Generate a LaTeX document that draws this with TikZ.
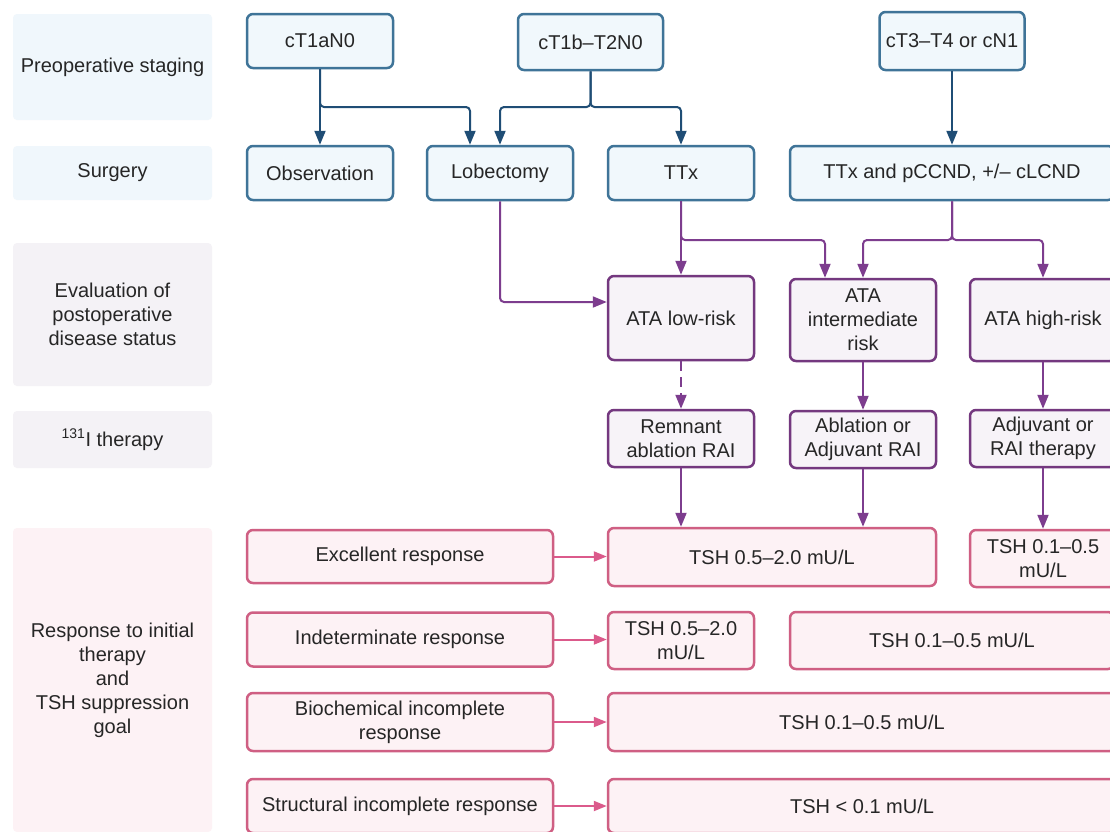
\documentclass[tikz,border=0pt]{standalone}
\usepackage{fontspec}
\setmainfont{Liberation Sans}
\usetikzlibrary{arrows.meta}
\definecolor{txt}{HTML}{262626}
\definecolor{bluebd}{HTML}{3F7498}
\definecolor{bluefill}{HTML}{F1F8FC}
\definecolor{bluearr}{HTML}{1F4D75}
\definecolor{lblblue}{HTML}{F0F7FC}
\definecolor{purbd}{HTML}{74387F}
\definecolor{purfill}{HTML}{F7F3F8}
\definecolor{purarr}{HTML}{7D3D8E}
\definecolor{lblpur}{HTML}{F4F2F6}
\definecolor{pinkbd}{HTML}{CF5F83}
\definecolor{pinkfill}{HTML}{FDF2F5}
\definecolor{pinkarr}{HTML}{DB5A8B}
\definecolor{lblpink}{HTML}{FDF2F5}
\begin{document}
\begin{tikzpicture}[x=1pt,y=-1pt,
  every node/.style={font=\fontsize{20}{24}\selectfont, text=txt, align=center, inner sep=0pt},
  lbl/.style={fill=#1, rounded corners=4pt, draw=none},
  bbox/.style={draw=bluebd, fill=bluefill, line width=2.5pt, rounded corners=6pt},
  pbox/.style={draw=purbd, fill=purfill, line width=2.5pt, rounded corners=6pt},
  kbox/.style={draw=pinkbd, fill=pinkfill, line width=2.5pt, rounded corners=6pt},
  barr/.style={draw=bluearr, line width=2pt, rounded corners=4pt, -{Triangle[length=14pt,width=11pt]}},
  parr/.style={draw=purarr, line width=2pt, rounded corners=4pt, -{Triangle[length=14pt,width=11pt]}},
  karr/.style={draw=pinkarr, line width=2pt, -{Triangle[length=13pt,width=10pt]}}
]
\clip (0,0) rectangle (1110,831);
\fill[white] (0,0) rectangle (1110,831);

% row labels
\node[lbl=lblblue, minimum width=199pt, minimum height=106pt] (L1) at (112.5,67) {Preoperative staging};
\node[lbl=lblblue, minimum width=199pt, minimum height=54pt] (L2) at (112.5,173) {Surgery};
\node[lbl=lblpur, minimum width=199pt, minimum height=143pt] (L3) at (112.5,314.5) {Evaluation of\\postoperative\\disease status};
\node[lbl=lblpur, minimum width=199pt, minimum height=57pt] (L4) at (112.5,439.5) {\textsuperscript{131}I therapy};
\node[lbl=lblpink, minimum width=199pt, minimum height=304pt] (L5) at (112.5,680) {Response to initial\\therapy\\and\\TSH suppression\\goal};

% staging
\node[bbox, minimum width=146pt, minimum height=54pt] (a1) at (320,41) {cT1aN0};
\node[bbox, minimum width=145pt, minimum height=56pt] (a2) at (590.5,42) {cT1b–T2N0};
\node[bbox, minimum width=145pt, minimum height=58pt] (a3) at (952,41) {cT3–T4 or cN1};

% surgery
\node[bbox, minimum width=146pt, minimum height=54pt] (b1) at (320,173) {Observation};
\node[bbox, minimum width=146pt, minimum height=54pt] (b2) at (500,173) {Lobectomy};
\node[bbox, minimum width=146pt, minimum height=54pt] (b3) at (681,173) {TTx};
\node[bbox, minimum width=324pt, minimum height=54pt] (b4) at (952,173) {TTx and pCCND, +/– cLCND};

% evaluation
\node[pbox, minimum width=146pt, minimum height=84pt] (c1) at (681,318) {ATA low-risk};
\node[pbox, minimum width=146pt, minimum height=82pt] (c2) at (863,320) {ATA\\intermediate\\risk};
\node[pbox, minimum width=146pt, minimum height=82pt] (c3) at (1043,320) {ATA high-risk};

% 131I therapy
\node[pbox, minimum width=146pt, minimum height=57pt] (d1) at (681,438.5) {Remnant\\ablation RAI};
\node[pbox, minimum width=146pt, minimum height=57pt] (d2) at (863,439.5) {Ablation or\\Adjuvant RAI};
\node[pbox, minimum width=146pt, minimum height=57pt] (d3) at (1043,438.5) {Adjuvant or\\RAI therapy};

% responses
\node[kbox, minimum width=306pt, minimum height=53pt] (e1) at (400,556.5) {Excellent response};
\node[kbox, minimum width=306pt, minimum height=54pt] (e2) at (400,639.5) {Indeterminate response};
\node[kbox, minimum width=306pt, minimum height=58pt] (e3) at (400,722) {Biochemical incomplete\\response};
\node[kbox, minimum width=306pt, minimum height=54pt] (e4) at (400,806) {Structural incomplete response};

\node[kbox, minimum width=328pt, minimum height=58pt] (f1) at (772,557) {TSH 0.5–2.0 mU/L};
\node[kbox, minimum width=146pt, minimum height=57pt] (f2) at (1043,558.5) {TSH 0.1–0.5\\mU/L};
\node[kbox, minimum width=146pt, minimum height=57pt] (g1) at (681,640.5) {TSH 0.5–2.0\\mU/L};
\node[kbox, minimum width=324pt, minimum height=57pt] (g2) at (952,640.5) {TSH 0.1–0.5 mU/L};
\node[kbox, minimum width=508pt, minimum height=58pt] (h1) at (862,722) {TSH 0.1–0.5 mU/L};
\node[kbox, minimum width=508pt, minimum height=54pt] (i1) at (862,806) {TSH < 0.1 mU/L};

% blue connectors
\draw[barr] (a1) -- (b1);
\draw[barr] (a1.south) -- (320,107) -| ([xshift=-30pt]b2.north);
\draw[barr] (a2.south) -- (590.5,107) -| (b2.north);
\draw[barr] (a2.south) -- (590.5,107) -| (b3.north);
\draw[barr] (a3) -- (b4);

% purple connectors
\draw[parr] (b2.south) |- ([yshift=16pt]c1.west);
\draw[parr] (b3) -- (c1);
\draw[parr] (b3.south) -- (681,240) -| ([xshift=-38pt]c2.north);
\draw[parr] (b4.south) -- (952,240) -| (c2.north);
\draw[parr] (b4.south) -- (952,240) -| (c3.north);
\draw[parr, dash pattern=on 10pt off 6pt] (c1) -- (d1);
\draw[parr] (c2) -- (d2);
\draw[parr] (c3) -- (d3);
\draw[parr] (d1.south) -- (d1.south |- f1.north);
\draw[parr] (d2.south) -- (d2.south |- f1.north);
\draw[parr] (d3) -- (f2);

% pink connectors
\draw[karr] (e1.east) -- (e1.east -| f1.west);
\draw[karr] (e2.east) -- (e2.east -| g1.west);
\draw[karr] (e3.east) -- (e3.east -| h1.west);
\draw[karr] (e4.east) -- (e4.east -| i1.west);
\end{tikzpicture}
\end{document}
